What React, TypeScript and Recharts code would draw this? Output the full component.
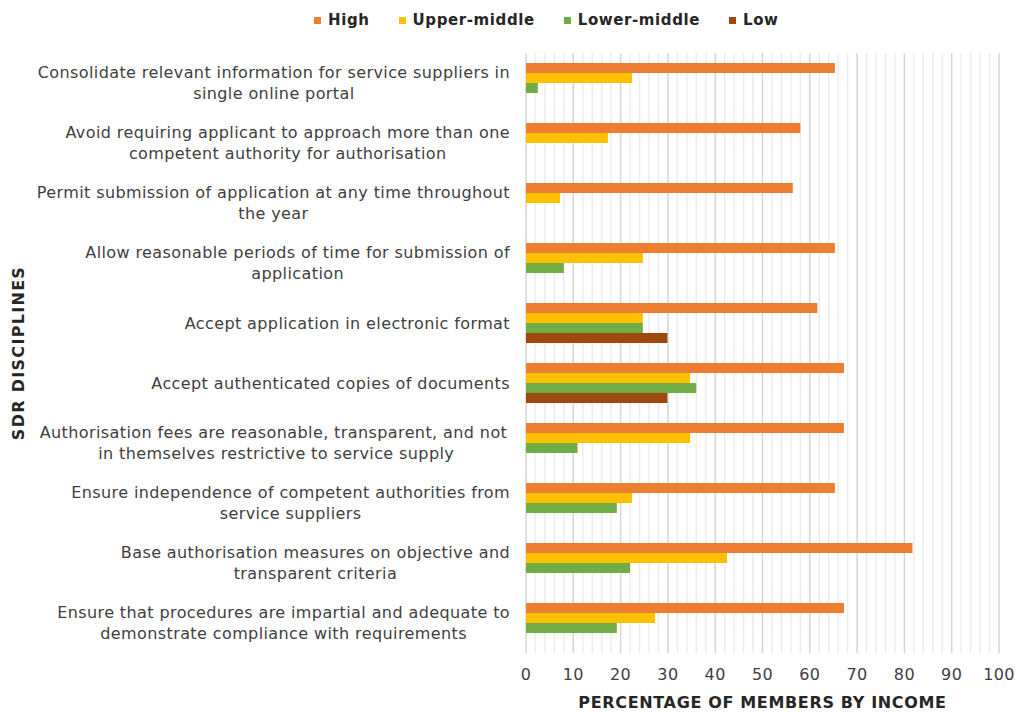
import { Bar, BarChart, CartesianGrid, Label, XAxis, YAxis } from "recharts"

const categories = [
  "Consolidate relevant information for service suppliers in\nsingle online portal",
  "Avoid requiring applicant to approach more than one\ncompetent authority for authorisation",
  "Permit submission of application at any time throughout\nthe year",
  "Allow reasonable periods of time for submission of\napplication",
  "Accept application in electronic format",
  "Accept authenticated copies of documents",
  "Authorisation fees are reasonable, transparent, and not \nin themselves restrictive to service supply",
  "Ensure independence of competent authorities from\nservice suppliers",
  "Base authorisation measures on objective and\ntransparent criteria",
  "Ensure that procedures are impartial and adequate to\ndemonstrate compliance with requirements",
]

const high = [65.3, 58.0, 56.4, 65.3, 61.6, 67.2, 67.2, 65.3, 81.7, 67.2]
const upperMiddle = [22.4, 17.3, 7.2, 24.7, 24.7, 34.7, 34.7, 22.4, 42.5, 27.3]
const lowerMiddle = [2.5, null, null, 8.0, 24.7, 36.0, 10.9, 19.2, 22.0, 19.2]
const low = [null, null, null, null, 29.9, 29.9, null, null, null, null]

const majorTicks = [0, 10, 20, 30, 40, 50, 60, 70, 80, 90, 100]
const minorTicks = [
  2, 4, 6, 8, 12, 14, 16, 18, 22, 24, 26, 28, 32, 34, 36, 38, 42, 44, 46, 48,
  52, 54, 56, 58, 62, 64, 66, 68, 72, 74, 76, 78, 82, 84, 86, 88, 92, 94, 96, 98,
]

const series = [
  { key: "high", name: "High", color: "#ED7D31" },
  { key: "upperMiddle", name: "Upper-middle", color: "#FFC000" },
  { key: "lowerMiddle", name: "Lower-middle", color: "#70AD47" },
  { key: "low", name: "Low", color: "#9E480E" },
]

const data = categories.map((name, i) => ({
  name,
  high: high[i],
  upperMiddle: upperMiddle[i],
  lowerMiddle: lowerMiddle[i],
  low: low[i],
}))

const FONT = "'DejaVu Sans', Verdana, sans-serif"
const FS = 16
const LS = 0.4

let ctx: CanvasRenderingContext2D | null = null
function measure(text: string) {
  if (!ctx) ctx = document.createElement("canvas").getContext("2d")
  if (!ctx) return text.length * 8.3
  ctx.font = `${FS}px ${FONT}`
  return ctx.measureText(text).width + text.length * LS
}

function CategoryTick(props: any) {
  const { y, payload } = props
  const lines: string[] = String(payload.value).split("\n")
  const maxW = Math.max(...lines.map((l) => measure(l.trimEnd())))
  const cx = 510 - maxW / 2
  const lh = 20.5
  const start = y - ((lines.length - 1) * lh) / 2
  return (
    <text
      x={cx}
      y={start}
      textAnchor="middle"
      fontSize={FS}
      letterSpacing={LS}
      fill="#404040"
      fontFamily={FONT}
    >
      {lines.map((l, i) => (
        <tspan key={i} x={cx} y={start + i * lh} dominantBaseline="central">
          {l}
        </tspan>
      ))}
    </text>
  )
}

// minor grid every 2 units, placed with the x scale when it is handed over
const minorLines = ({ xAxis, offset }: any) => {
  const scale = xAxis && typeof xAxis.scale === "function" ? xAxis.scale : null
  return minorTicks.map((t) => (scale ? scale(t) : offset.left + (offset.width * t) / 100))
}

export default function App() {
  return (
    <div style={{ position: "absolute", left: 0, top: 0, width: 1019, height: 713, background: "#fff" }}>
      <div
        style={{
          position: "absolute",
          left: 314,
          top: 11,
          display: "flex",
          gap: 29,
          fontFamily: FONT,
          fontWeight: "bold",
          fontSize: 15,
          letterSpacing: 0.6,
          color: "#262626",
          zIndex: 2,
        }}
      >
        {series.map((s) => (
          <div key={s.key} style={{ display: "flex", alignItems: "center" }}>
            <span style={{ width: 7, height: 7, background: s.color, marginRight: 7 }} />
            <span>{s.name}</span>
          </div>
        ))}
      </div>
      <BarChart
        width={1019}
        height={713}
        data={data}
        layout="vertical"
        margin={{ top: 53, right: 20, bottom: 0, left: 0 }}
        barSize={10}
        barGap={0}
      >
        <CartesianGrid
          vertical
          horizontal={false}
          stroke="#ececec"
          strokeWidth={1.5}
          verticalCoordinatesGenerator={minorLines}
        />
        <CartesianGrid vertical horizontal={false} stroke="#d6d6d6" strokeWidth={1.5} />
        <XAxis
          type="number"
          domain={[0, 100]}
          ticks={majorTicks}
          axisLine={false}
          tickLine={false}
          tickMargin={10}
          height={60}
          tick={{ fontSize: FS, letterSpacing: LS, fill: "#404040", fontFamily: FONT }}
        >
          <Label
            value="PERCENTAGE OF MEMBERS BY INCOME"
            position="insideBottom"
            offset={5}
            style={{ fontSize: 16, letterSpacing: 0.65, fontWeight: "bold", fill: "#262626", fontFamily: FONT }}
          />
        </XAxis>
        <YAxis
          type="category"
          dataKey="name"
          width={526}
          axisLine={false}
          tickLine={false}
          interval={0}
          tick={<CategoryTick />}
        >
          <Label
            content={({ viewBox }: any) => {
              const cy = viewBox.y + viewBox.height / 2
              return (
                <text
                  x={18}
                  y={cy}
                  transform={`rotate(-90, 18, ${cy})`}
                  textAnchor="middle"
                  dominantBaseline="central"
                  fontSize={16}
                  letterSpacing={1.3}
                  fontWeight="bold"
                  fill="#262626"
                  fontFamily={FONT}
                >
                  SDR DISCIPLINES
                </text>
              )
            }}
          />
        </YAxis>
        {series.map((s) => (
          <Bar key={s.key} dataKey={s.key} name={s.name} fill={s.color} isAnimationActive={false} />
        ))}
      </BarChart>
    </div>
  )
}
